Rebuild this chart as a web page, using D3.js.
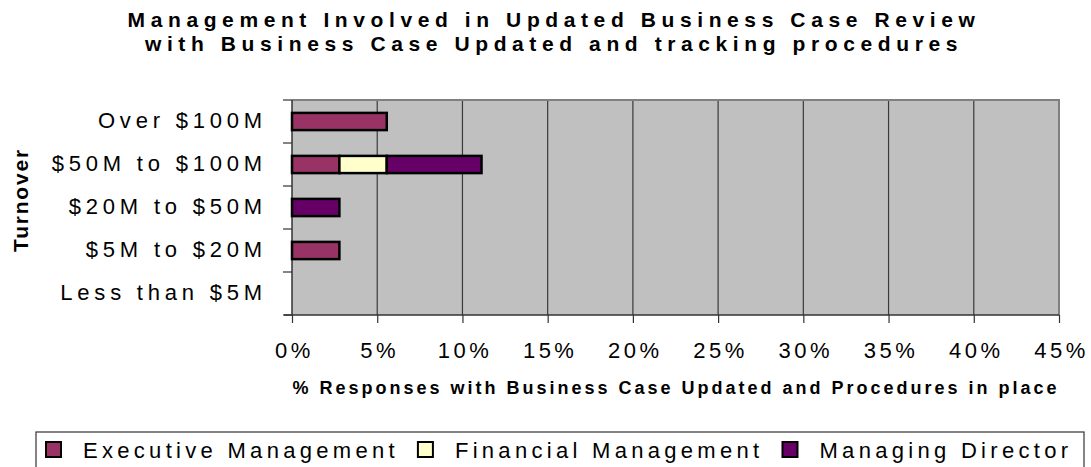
<!DOCTYPE html>
<html>
<head>
<meta charset="utf-8">
<script src="https://cdn.jsdelivr.net/npm/d3@7"></script>
<style>
  body { margin: 0; background: #fff; }
  svg { display: block; font-family: "Liberation Sans", Arial, sans-serif; }
</style>
</head>
<body>
<svg width="1091" height="467"></svg>
<script>
// chart data (values in %)
const categories = ["Over $100M", "$50M to $100M", "$20M to $50M", "$5M to $20M", "Less than $5M"];
const seriesNames = ["Executive Management", "Financial Management", "Managing Director"];
const executive = [5.56, 2.78, 0, 2.78, 0];
const financial = [0, 2.78, 0, 0, 0];
const managingDirector = [0, 5.56, 2.78, 0, 0];
const xTicks = [0, 5, 10, 15, 20, 25, 30, 35, 40, 45];
const colors = ["#993366", "#FFFFCC", "#660066"];

const svg = d3.select("svg");
const margin = { left: 292, right: 1059, top: 100, bottom: 315 };

// rows for the stack
const rows = categories.map((c, i) => ({
  cat: c,
  [seriesNames[0]]: executive[i],
  [seriesNames[1]]: financial[i],
  [seriesNames[2]]: managingDirector[i]
}));
const stacked = d3.stack().keys(seriesNames)(rows);

const x = d3.scaleLinear().domain([0, 45]).range([margin.left, margin.right]);
const y = d3.scaleBand().domain(categories).range([margin.top, margin.bottom]).paddingInner(0.6).paddingOuter(0.3);
const yBand = d3.scaleBand().domain(categories).range([margin.top, margin.bottom]);

// plot background
svg.append("rect")
  .attr("x", margin.left).attr("y", margin.top)
  .attr("width", margin.right - margin.left).attr("height", margin.bottom - margin.top)
  .attr("fill", "#c0c0c0");

// vertical gridlines
svg.append("g")
  .selectAll("line")
  .data(xTicks.slice(1, -1))
  .enter().append("line")
    .attr("x1", d => x(d)).attr("x2", d => x(d))
    .attr("y1", margin.top).attr("y2", margin.bottom)
    .attr("stroke", "#3a3a3a").attr("stroke-width", 1.2);

// plot border (top + right gray)
svg.append("path")
  .attr("d", `M${margin.left},${margin.top}H${margin.right}V${margin.bottom}`)
  .attr("fill", "none").attr("stroke", "#808080").attr("stroke-width", 2);

// x axis
const xAxis = d3.axisBottom(x).tickValues(xTicks).tickFormat(d => d + "%").tickSize(8).tickPadding(19);
const gx = svg.append("g").attr("transform", `translate(0,${margin.bottom})`).call(xAxis);
gx.select(".domain").attr("stroke", "#333").attr("stroke-width", 1.5).attr("d", `M${margin.left - 8},0H${margin.right}`);
gx.selectAll(".tick line").attr("stroke", "#333").attr("stroke-width", 1.2);
gx.selectAll(".tick text")
  .attr("font-size", 22).attr("fill", "#000")
  .attr("font-family", "Liberation Sans, Arial, sans-serif")
  .style("letter-spacing", "3.5px").attr("dx", 2);

// y axis: ticks at band boundaries, labels centered
const bounds = categories.map(c => yBand(c)).concat([margin.bottom]);
svg.append("line")
  .attr("x1", margin.left).attr("x2", margin.left)
  .attr("y1", margin.top).attr("y2", margin.bottom)
  .attr("stroke", "#333").attr("stroke-width", 1.5);
svg.append("g").selectAll("line")
  .data(bounds)
  .enter().append("line")
    .attr("x1", margin.left - 9).attr("x2", margin.left)
    .attr("y1", d => d).attr("y2", d => d)
    .attr("stroke", "#333").attr("stroke-width", 1.2);
svg.append("g").selectAll("text")
  .data(categories)
  .enter().append("text")
    .attr("x", 267)
    .attr("y", d => yBand(d) + yBand.bandwidth() / 2)
    .attr("dy", "0.28em")
    .attr("text-anchor", "end")
    .attr("font-size", 22)
    .style("letter-spacing", "4.8px")
    .text(d => d);

// bars
svg.append("g")
  .selectAll("g")
  .data(stacked)
  .enter().append("g")
    .attr("fill", (d, i) => colors[i])
  .selectAll("rect")
  .data(d => d.filter(p => p[1] - p[0] > 0))
  .enter().append("rect")
    .attr("x", d => x(d[0]))
    .attr("y", d => y(d.data.cat))
    .attr("width", d => x(d[1]) - x(d[0]))
    .attr("height", y.bandwidth())
    .attr("stroke", "#000")
    .attr("stroke-width", 2.5);

// titles
const title = svg.append("text")
  .attr("text-anchor", "middle")
  .attr("font-size", 21).attr("font-weight", "bold")
  .style("letter-spacing", "5.6px");
title.append("tspan").attr("x", 554).attr("y", 27).text("Management Involved in Updated Business Case Review");
title.append("tspan").attr("x", 554).attr("y", 50.5).text("with Business Case Updated and tracking procedures");

svg.append("text")
  .attr("x", 676).attr("y", 394)
  .attr("text-anchor", "middle")
  .attr("font-size", 18).attr("font-weight", "bold")
  .style("letter-spacing", "3px")
  .text("% Responses with Business Case Updated and Procedures in place");

svg.append("text")
  .attr("transform", "translate(28,200) rotate(-90)")
  .attr("text-anchor", "middle")
  .attr("font-size", 21).attr("font-weight", "bold")
  .style("letter-spacing", "1.8px")
  .text("Turnover");

// legend
svg.append("rect")
  .attr("x", 36).attr("y", 432)
  .attr("width", 1084 - 36).attr("height", 60)
  .attr("fill", "#fff").attr("stroke", "#333").attr("stroke-width", 1.2);

const legend = svg.append("g").attr("transform", "translate(46,442)");
let lx = 0;
seriesNames.forEach((name, i) => {
  const item = legend.append("g").attr("transform", `translate(${lx},0)`);
  item.append("rect")
    .attr("x", 0).attr("y", 0).attr("width", 15).attr("height", 15)
    .attr("fill", colors[i]).attr("stroke", "#000").attr("stroke-width", 2);
  const t = item.append("text")
    .attr("x", 37).attr("y", 16)
    .attr("font-size", 22)
    .style("letter-spacing", "4.3px")
    .text(name);
  lx += 37 + t.node().getComputedTextLength() + 19;
});
</script>
</body>
</html>
